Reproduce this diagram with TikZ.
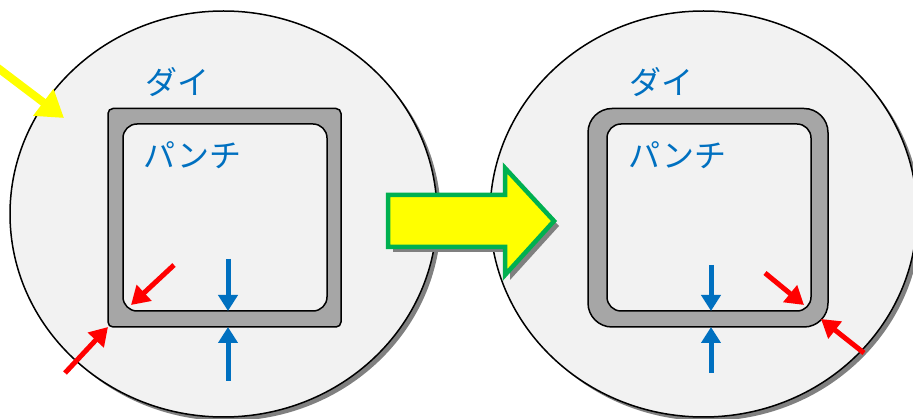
\documentclass[tikz,border=0pt]{standalone}
\usepackage{fontspec}
\newfontfamily\jpfont{Noto Sans CJK JP}
\usetikzlibrary{arrows.meta}
\definecolor{diefill}{HTML}{F2F2F2}
\definecolor{wallgray}{HTML}{A6A6A6}
\definecolor{shadowgray}{HTML}{808080}
\definecolor{labelblue}{HTML}{0070C0}
\definecolor{arrowgreen}{HTML}{00B050}
\definecolor{pureyellow}{RGB}{255,255,0}
\definecolor{purered}{RGB}{255,0,0}
\tikzset{
  x=1pt,y=-1pt,
  diecircle/.style={draw=black,line width=1.5pt,fill=diefill},
  dieshadow/.style={fill=shadowgray},
  wall/.style={draw=black,line width=1.5pt,fill=wallgray},
  punch/.style={draw=black,line width=1.5pt,fill=diefill},
  jplabel/.style={text=labelblue,font=\jpfont\fontsize{32}{33}\selectfont,inner sep=0pt,anchor=center},
  bluearrow/.style={draw=labelblue,line width=5pt,-{Triangle[length=16pt,width=19pt]}},
  redarrow/.style={draw=purered,line width=5pt,-{Triangle[length=18pt,width=21pt]}},
  yellowarrow/.style={draw=pureyellow,line width=8pt,-{Triangle[length=26pt,width=32pt]}},
}
\begin{document}
\begin{tikzpicture}
\useasboundingbox (0,0) rectangle (913,419);
\clip (0,0) rectangle (913,419);
% left die
\fill[dieshadow] (227.5,218) ellipse [x radius=213.5,y radius=203];
\draw[diecircle] (223.5,214) ellipse [x radius=213.5,y radius=203];
\draw[wall,rounded corners=5pt] (108,108.5) rectangle (341,327);
\draw[punch,rounded corners=14pt] (123,124) rectangle (327,311);
% right die
\fill[dieshadow] (707.5,218) ellipse [x radius=213.5,y radius=203];
\draw[diecircle] (703.5,214) ellipse [x radius=213.5,y radius=203];
\draw[wall,rounded corners=24pt] (588,108.5) rectangle (828,327);
\draw[punch,rounded corners=14pt] (607,124) rectangle (811,311);
% labels
\node[jplabel] (dieL) at (177.5,82) {\jpfont ダイ};
\node[jplabel] (punchL) at (192.5,155.5) {\jpfont パンチ};
\node[jplabel] (dieR) at (661.5,82) {\jpfont ダイ};
\node[jplabel] (punchR) at (677.5,155.5) {\jpfont パンチ};
% yellow arrow
\coordinate (ya) at (-6,65);
\coordinate (yb) at (64,118);
\draw[yellowarrow] (ya) -- (yb);
% left arrows
\coordinate (a1) at (228,259); \coordinate (a2) at (228,311);
\coordinate (a3) at (228,381); \coordinate (a4) at (228,327);
\coordinate (a5) at (174,265); \coordinate (a6) at (131,305);
\coordinate (a7) at (65,373); \coordinate (a8) at (108,327);
\draw[bluearrow] (a1) -- (a2);
\draw[bluearrow] (a3) -- (a4);
\draw[redarrow] (a5) -- (a6);
\draw[redarrow] (a7) -- (a8);
% right arrows
\coordinate (b1) at (711,265); \coordinate (b2) at (711,311);
\coordinate (b3) at (711,373); \coordinate (b4) at (711,327);
\coordinate (b5) at (765,273); \coordinate (b6) at (804,305);
\coordinate (b7) at (864,353); \coordinate (b8) at (821,319);
\draw[bluearrow] (b1) -- (b2);
\draw[bluearrow] (b3) -- (b4);
\draw[redarrow] (b5) -- (b6);
\draw[redarrow] (b7) -- (b8);
% big arrow
\fill[shadowgray] (393,200) -- (510,200) -- (510,173) -- (559,226) -- (510,280) -- (510,252) -- (393,252) -- cycle;
\draw[draw=arrowgreen,line width=4.5pt,fill=pureyellow,miter limit=10] (388,195) -- (505,195) -- (505,168) -- (554,221) -- (505,275) -- (505,247) -- (388,247) -- cycle;
\end{tikzpicture}
\end{document}
